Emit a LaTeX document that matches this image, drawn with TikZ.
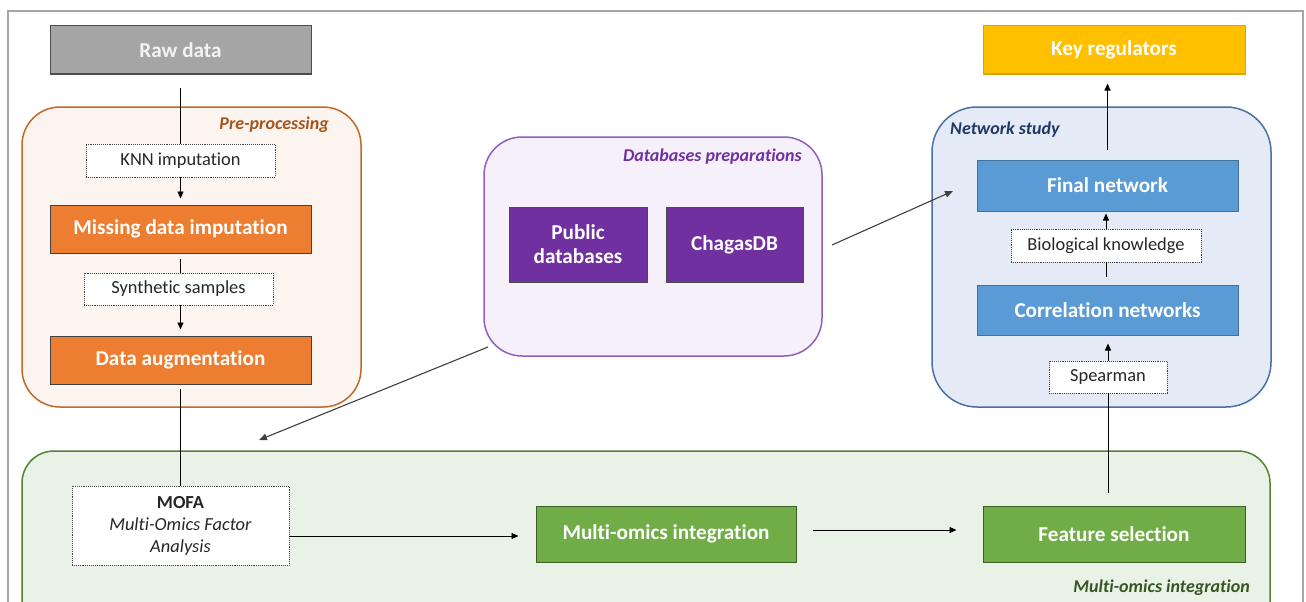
\documentclass[tikz,border=0pt]{standalone}
\usepackage{fontspec}
\setmainfont{Carlito}[Ligatures=NoCommon]
\usetikzlibrary{arrows.meta,calc}
\definecolor{rawgrey}{HTML}{A5A5A5}
\definecolor{orfill}{HTML}{ED7D31}
\definecolor{prefill}{HTML}{FCF4EF}
\definecolor{preline}{HTML}{C0692B}
\definecolor{prelab}{HTML}{A5541B}
\definecolor{purfill}{HTML}{7030A0}
\definecolor{dbfill}{HTML}{F5F0F9}
\definecolor{dbline}{HTML}{9060C0}
\definecolor{blfill}{HTML}{5B9BD5}
\definecolor{blline}{HTML}{41719C}
\definecolor{netfill}{HTML}{E5EBF6}
\definecolor{netline}{HTML}{4A6FA5}
\definecolor{netlab}{HTML}{203864}
\definecolor{keyfill}{HTML}{FFC000}
\definecolor{keyline}{HTML}{D9A400}
\definecolor{grfill}{HTML}{70AD47}
\definecolor{grline}{HTML}{3D5F27}
\definecolor{omfill}{HTML}{E8F2E7}
\definecolor{omline}{HTML}{548235}
\definecolor{omlab}{HTML}{375623}
\definecolor{frame}{HTML}{A6A6A6}
\tikzset{
  solidbox/.style={draw=#1, line width=1pt, inner sep=0pt, align=center, text=white,
     font=\fontsize{21.2}{24}\selectfont\bfseries},
  dotbox/.style={draw=black!75, densely dotted, line width=0.9pt, fill=white, inner sep=0pt,
     align=center, text=black!85, font=\fontsize{18.4}{22}\selectfont},
  container/.style={draw=#1, line width=1.5pt, rounded corners=38pt, inner sep=0pt},
  lab/.style={font=\fontsize{18}{20}\selectfont\bfseries\itshape, inner sep=0pt},
  conn/.style={draw=black, line width=0.9pt},
  arr/.style={conn, -{Triangle[length=7pt,width=6pt]}},
  diag/.style={draw=black!75, line width=1.1pt, -{Triangle[length=8pt,width=6.5pt]}}
}
\begin{document}
\begin{tikzpicture}[x=1pt,y=-1pt]
\useasboundingbox (0,0) rectangle (1306,602);
\clip (0,0) rectangle (1306,602);
\fill[white] (0,0) rectangle (1306,602);
% outer frame
\draw[frame, line width=2pt] (8,11) rectangle (1303,640);

% containers
\node[container=preline, fill=prefill, minimum width=339pt, minimum height=300pt] (prebox) at (191.5,257) {};
\node[container=dbline, fill=dbfill, minimum width=338pt, minimum height=219pt] (dbbox) at (653,246.5) {};
\node[container=netline, fill=netfill, minimum width=339pt, minimum height=300pt, rounded corners=45pt] (netbox) at (1101.5,257) {};
\node[container=omline, fill=omfill, minimum width=1248pt, minimum height=189pt, rounded corners=32pt] (omicsbox) at (646,545.5) {};

% container labels
\node[lab, text=prelab, anchor=east] (prelab) at (329,125) {Pre-processing};
\node[lab, text=purfill, anchor=east] (dblab) at (802,157) {Databases preparations};
\node[lab, text=netlab, anchor=west] (netlabel) at (950,130) {Network study};
\node[lab, text=omlab, anchor=east] (omlab) at (1250,588) {Multi-omics integration};

% left column
\node[solidbox=black!70, fill=rawgrey, text=white!95!black, minimum width=261pt, minimum height=48pt] (raw) at (180.5,50) {Raw data};
\node[dotbox, minimum width=189pt, minimum height=33pt] (knn) at (180.5,160.5) {KNN imputation};
\node[solidbox=black!75, fill=orfill, minimum width=261pt, minimum height=48pt] (miss) at (180.5,229) {Missing data imputation};
\node[dotbox, minimum width=189pt, minimum height=32pt] (syn) at (178.5,289) {Synthetic samples};
\node[solidbox=black!75, fill=orfill, minimum width=261pt, minimum height=48pt] (aug) at (180.5,360) {Data augmentation};

% databases
\node[solidbox=black!70, fill=purfill, minimum width=138pt, minimum height=75pt] (pub) at (578,244.5) {Public\\databases};
\node[solidbox=black!70, fill=purfill, minimum width=137pt, minimum height=75pt] (chagas) at (734.5,244.5) {ChagasDB};

% network column
\node[solidbox=keyline, fill=keyfill, minimum width=262pt, minimum height=48pt] (key) at (1114,50) {Key regulators};
\node[solidbox=blline, fill=blfill, minimum width=261pt, minimum height=51pt] (final) at (1107.5,185.5) {Final network};
\node[dotbox, minimum width=190pt, minimum height=33pt] (bio) at (1106,245.5) {Biological knowledge};
\node[solidbox=blline, fill=blfill, minimum width=261pt, minimum height=50pt] (corr) at (1107.5,310) {Correlation networks};
\node[dotbox, minimum width=118pt, minimum height=32pt] (spear) at (1108,377) {Spearman};

% multi-omics row
\node[dotbox, minimum width=217pt, minimum height=79pt, font=\fontsize{18.4}{22}\selectfont] (mofa) at (180.5,525.5) {\textbf{MOFA}\\\textit{Multi-Omics Factor}\\\textit{Analysis}};
\node[solidbox=grline, fill=grfill, minimum width=260pt, minimum height=56pt] (multi) at (666,534) {Multi-omics integration};
\node[solidbox=grline, fill=grfill, minimum width=262pt, minimum height=56pt] (feat) at (1114,534) {Feature selection};

% connectors left column
\draw[conn, shorten <=13pt] (raw.south) -- (knn.north);
\draw[arr, shorten >=6pt] (knn.south) -- (miss.north);
\draw[conn, shorten <=5pt] (miss.south) -- (miss.south |- syn.north);
\draw[arr, shorten >=6pt] (aug.north |- syn.south) -- (aug.north);
\draw[conn, shorten <=4pt] (aug.south) -- (mofa.north);

% multi-omics row
\draw[arr, shorten >=17pt] (mofa.east |- 0,536) -- (multi.west |- 0,536);
\draw[arr, shorten <=16pt, shorten >=26pt] (multi.east |- 0,530) -- (feat.west |- 0,530);

% network column
\draw[conn, shorten <=13pt] (spear.south |- feat.north) -- (spear.south);
\draw[arr, shorten >=8pt] (spear.north) -- (corr.south -| spear.north);
\draw[conn, shorten <=8pt] (corr.north -| bio.south) -- (bio.south);
\draw[arr, shorten >=2pt] (bio.north) -- (final.south -| bio.north);
\draw[arr, shorten <=10pt, shorten >=9pt] (final.north) -- (final.north |- key.south);

% diagonal arrows
\coordinate (dbout1) at (832,245);
\coordinate (netin) at (953,191);
\coordinate (dbout2) at (488,347);
\coordinate (omicsin) at (259,440);
\draw[diag] (dbout1) -- (netin);
\draw[diag] (dbout2) -- (omicsin);
\end{tikzpicture}
\end{document}
